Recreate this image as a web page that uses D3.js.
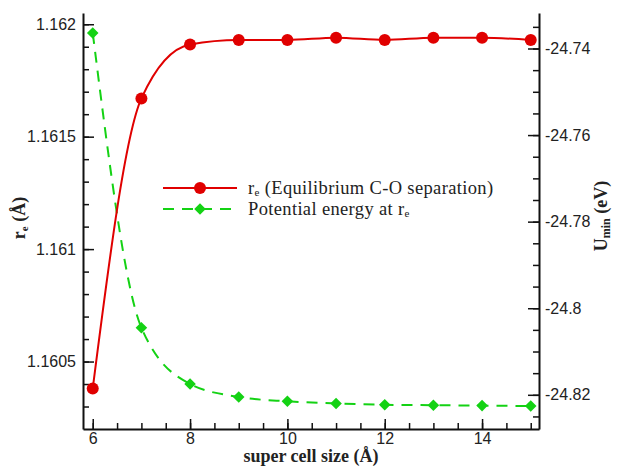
<!DOCTYPE html>
<html>
<head>
<meta charset="utf-8">
<script src="https://cdn.jsdelivr.net/npm/d3@7"></script>
<style>
  body { margin: 0; background: #fff; }
  .tick text { font-family: "Liberation Sans", Arial, sans-serif; font-size: 16px; fill: #222; }
  .title { font-family: "Liberation Serif", "Times New Roman", serif; font-weight: bold; font-size: 18px; fill: #222; }
  .legText { font-family: "Liberation Serif", "Times New Roman", serif; font-size: 18.5px; letter-spacing: 0.35px; fill: #222; }
</style>
</head>
<body>
<div id="chart"></div>
<script>
// data
var cellSize = [6, 7, 8, 9, 10, 11, 12, 13, 14, 15];
var reValues = [1.16038, 1.16167, 1.16191, 1.16193, 1.16193, 1.16194, 1.16193, 1.16194, 1.16194, 1.16193];
var energyValues = [-24.7364, -24.8045, -24.8175, -24.8205, -24.8215, -24.822, -24.8223, -24.8224, -24.8225, -24.8226];

var xTicks = [6, 8, 10, 12, 14];
var leftTicks = [1.1605, 1.161, 1.1615, 1.162];
var rightTicks = [-24.74, -24.76, -24.78, -24.8, -24.82];

var svgWidth = 617;
var svgHeight = 466;

// plot box in pixels (names avoid window.top clash)
var box = { left: 83, right: 539, top: 13, bottom: 429 };

var svg = d3.select("#chart")
  .append("svg")
  .attr("width", svgWidth)
  .attr("height", svgHeight);

var x = d3.scaleLinear().domain([5.8, 15.17]).range([box.left, box.right]);
var yL = d3.scaleLinear().domain([1.16020, 1.16205]).range([box.bottom, box.top]);
var yR = d3.scaleLinear().domain([-24.8279, -24.7318]).range([box.bottom, box.top]);

// minor ticks
var xMinor = d3.range(6, 15.01, 0.5);
var leftMinor = d3.range(1.1603, 1.16201, 0.0001);
var rightMinor = d3.range(-24.825, -24.7349, 0.005);

function styleAxis(g) {
  g.selectAll("path.domain").attr("stroke", "#111").attr("stroke-width", 2);
  g.selectAll(".tick line").attr("stroke", "#111").attr("stroke-width", 1.5);
}

// bottom axis
svg.append("g")
  .attr("transform", `translate(0, ${box.bottom})`)
  .call(d3.axisBottom(x).tickValues(xMinor).tickSize(-6).tickSizeOuter(0).tickFormat(""))
  .call(styleAxis);
svg.append("g")
  .attr("transform", `translate(0, ${box.bottom})`)
  .call(d3.axisBottom(x).tickValues(xTicks).tickSize(-10).tickSizeOuter(0).tickPadding(4))
  .call(styleAxis)
  .call(g => g.select(".domain").remove());

// left axis
svg.append("g")
  .attr("transform", `translate(${box.left}, 0)`)
  .call(d3.axisLeft(yL).tickValues(leftMinor).tickSize(-6).tickSizeOuter(0).tickFormat(""))
  .call(styleAxis);
svg.append("g")
  .attr("transform", `translate(${box.left}, 0)`)
  .call(d3.axisLeft(yL).tickValues(leftTicks).tickSize(-11).tickSizeOuter(0).tickPadding(7).tickFormat(d => String(d)))
  .call(styleAxis)
  .call(g => g.select(".domain").remove());

// right axis
svg.append("g")
  .attr("transform", `translate(${box.right}, 0)`)
  .call(d3.axisRight(yR).tickValues(rightMinor).tickSize(-6).tickSizeOuter(0).tickFormat(""))
  .call(styleAxis);
svg.append("g")
  .attr("transform", `translate(${box.right}, 0)`)
  .call(d3.axisRight(yR).tickValues(rightTicks).tickSize(-11).tickSizeOuter(0).tickPadding(6).tickFormat(d => String(d)))
  .call(styleAxis)
  .call(g => g.select(".domain").remove());

var red = "#e00000";
var green = "#14d214";

var reData = cellSize.map((c, i) => ({x: c, y: reValues[i]}));
var enData = cellSize.map((c, i) => ({x: c, y: energyValues[i]}));

// lines
var reLine = d3.line().x(d => x(d.x)).y(d => yL(d.y)).curve(d3.curveMonotoneX);
var enLine = d3.line().x(d => x(d.x)).y(d => yR(d.y)).curve(d3.curveMonotoneX);

svg.append("path")
  .datum(enData)
  .attr("d", enLine)
  .attr("fill", "none")
  .attr("stroke", green)
  .attr("stroke-width", 2)
  .attr("stroke-dasharray", "11,8");

svg.append("path")
  .datum(reData)
  .attr("d", reLine)
  .attr("fill", "none")
  .attr("stroke", red)
  .attr("stroke-width", 2);

var diamond = d3.symbol().type(d3.symbolDiamond2).size(85);

svg.selectAll("circle.re")
  .data(reData)
  .enter()
  .append("circle")
  .attr("class", "re")
  .attr("cx", d => x(d.x))
  .attr("cy", d => yL(d.y))
  .attr("r", 6)
  .attr("fill", red);

svg.selectAll("path.en")
  .data(enData)
  .enter()
  .append("path")
  .attr("class", "en")
  .attr("d", diamond)
  .attr("transform", d => `translate(${x(d.x)}, ${yR(d.y)})`)
  .attr("fill", green);

// legend
var leg = svg.append("g");
leg.append("line").attr("x1", 163).attr("x2", 237).attr("y1", 188).attr("y2", 188)
  .attr("stroke", red).attr("stroke-width", 2);
leg.append("circle").attr("cx", 200).attr("cy", 188).attr("r", 6).attr("fill", red);
leg.append("line").attr("x1", 163).attr("x2", 237).attr("y1", 209).attr("y2", 209)
  .attr("stroke", green).attr("stroke-width", 2).attr("stroke-dasharray", "11,8");
leg.append("path").attr("d", diamond).attr("transform", "translate(200, 209)").attr("fill", green);

var t1 = leg.append("text").attr("class", "legText").attr("x", 248).attr("y", 194);
t1.append("tspan").text("r");
t1.append("tspan").attr("font-size", "11px").attr("dy", 2).text("e");
t1.append("tspan").attr("dy", -2).text(" (Equilibrium C-O separation)");

var t2 = leg.append("text").attr("class", "legText").attr("x", 248).attr("y", 215);
t2.append("tspan").text("Potential energy at r");
t2.append("tspan").attr("font-size", "11px").attr("dy", 2).text("e");

// axis titles
svg.append("text")
  .attr("class", "title")
  .attr("x", (box.left + box.right) / 2)
  .attr("y", 462)
  .attr("text-anchor", "middle")
  .text("super cell size (Å)");

var lt = svg.append("text")
  .attr("class", "title")
  .attr("transform", "translate(25, 218) rotate(-90)")
  .attr("text-anchor", "middle");
lt.append("tspan").text("r");
lt.append("tspan").attr("font-size", "11px").attr("dy", 3).text("e");
lt.append("tspan").attr("dy", -3).text(" (Å)");

var rt = svg.append("text")
  .attr("class", "title")
  .attr("transform", "translate(607, 216) rotate(-90)")
  .attr("text-anchor", "middle");
rt.append("tspan").text("U");
rt.append("tspan").attr("font-size", "12px").attr("dy", 3).text("min");
rt.append("tspan").attr("dy", -3).text(" (eV)");
</script>
</body>
</html>
